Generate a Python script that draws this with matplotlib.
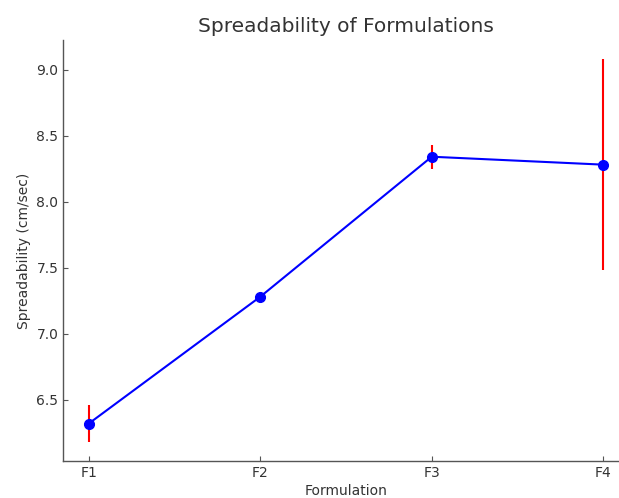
import numpy as np
import matplotlib
matplotlib.use("Agg")
import matplotlib.pyplot as plt

formulations = ["F1", "F2", "F3", "F4"]
spreadability = [6.32, 7.28, 8.34, 8.28]
spread_err = [0.14, 0.03, 0.09, 0.80]

text_col = "#333333"
plt.rcParams["font.family"] = "DejaVu Sans"

fig, ax = plt.subplots(figsize=(6.19, 4.98), dpi=100)
# the original axes run past the right edge of the picture
fig.subplots_adjust(left=0.102, right=1.016, bottom=0.074, top=0.92)

x = np.arange(len(formulations))
ax.errorbar(x, spreadability, yerr=spread_err, fmt="-o", color="blue",
            ecolor="red", elinewidth=1.5, capsize=0, markersize=7, linewidth=1.5)

ax.set_xticks(x)
ax.set_xticklabels(formulations)
ax.set_title("Spreadability of Formulations", fontsize=14.5, color=text_col)
ax.set_xlabel("Formulation", fontsize=10, color=text_col, labelpad=3)
ax.set_ylabel("Spreadability (cm/sec)", fontsize=10, color=text_col)

for s in ["top", "right"]:
    ax.spines[s].set_visible(False)
for s in ["left", "bottom"]:
    ax.spines[s].set_color("#555555")
    ax.spines[s].set_linewidth(1.0)
ax.tick_params(direction="in", colors="#555555", labelcolor=text_col, labelsize=10)

fig.savefig("out.png", dpi=100)
